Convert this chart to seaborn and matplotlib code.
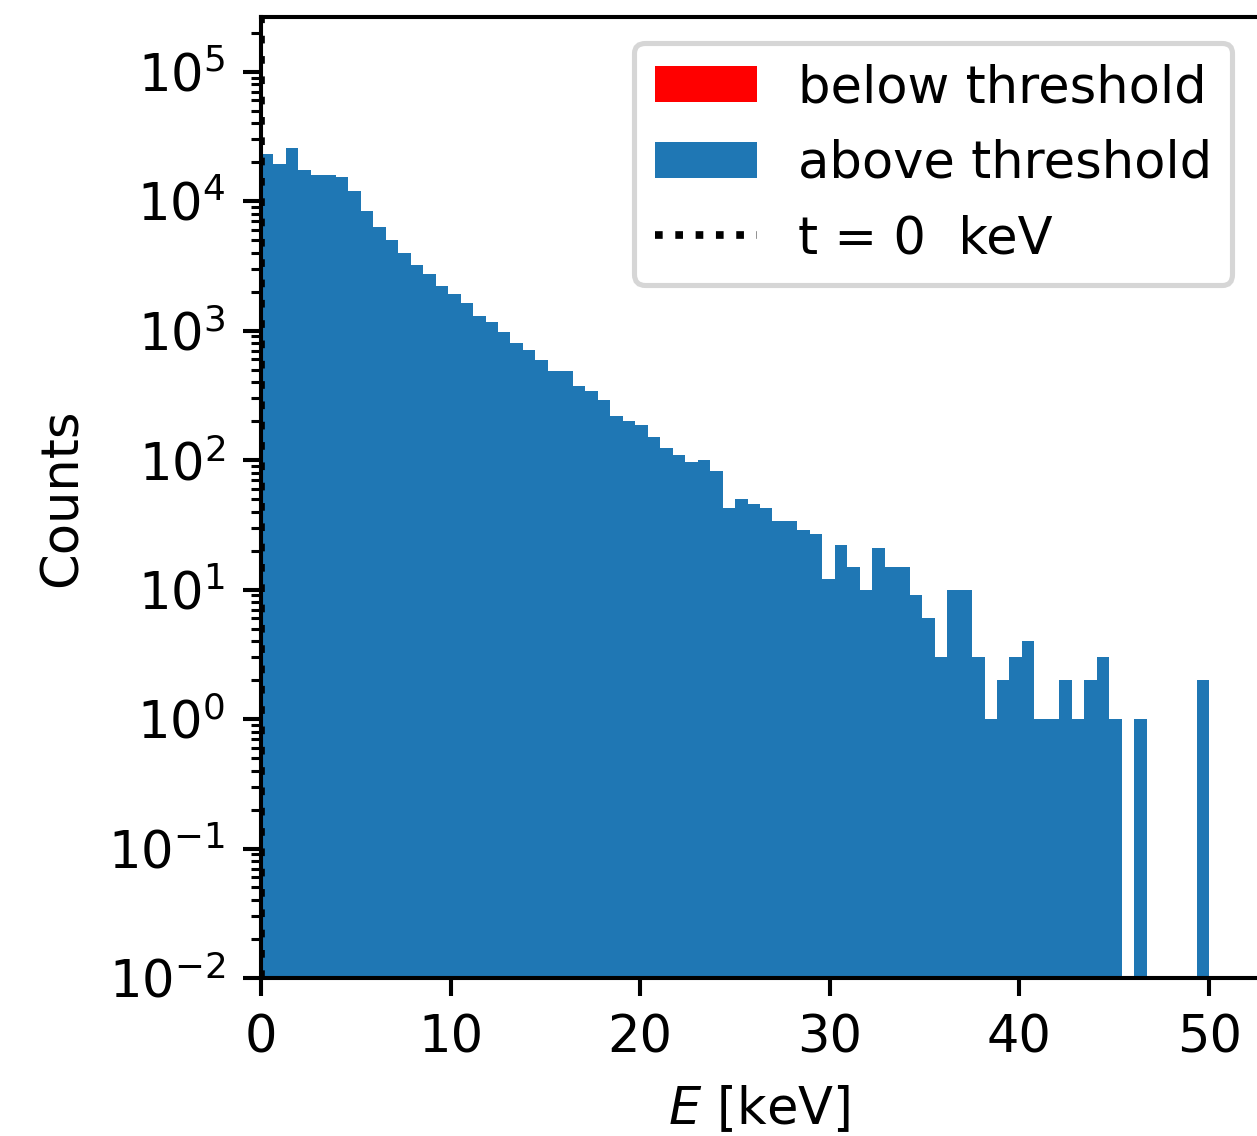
import numpy as np
import pandas as pd
import matplotlib
matplotlib.use("Agg")
import matplotlib.pyplot as plt
from matplotlib.patches import Patch
import seaborn as sns

# ---- data ----
threshold = 0
e_min, e_max, n_bins = 0.0, 50.0, 76
above_counts = [23300, 19500, 25700, 17300, 15800, 15800, 15300, 11900, 8440, 6270,
                4980, 4000, 3190, 2750, 2220, 1900, 1620, 1290, 1170, 980,
                805, 702, 594, 489, 489, 370, 340, 293, 219, 201,
                188, 152, 125, 109, 96, 100, 83, 43, 50, 46,
                43, 34, 34, 29, 27, 12, 22, 15, 10, 21,
                15, 15, 9, 6, 3, 10, 10, 3, 1, 2,
                3, 4, 1, 1, 2, 1, 2, 3, 1, 0,
                1, 0, 0, 0, 0, 2]
below_counts = []  # nothing below a 0 keV threshold

edges = np.linspace(e_min, e_max, n_bins + 1)
centers = 0.5 * (edges[:-1] + edges[1:])
df = pd.DataFrame({"E": centers, "counts": np.asarray(above_counts, dtype=float)})

plt.rcParams["font.size"] = 10
W, H, DPI = 1257, 1136, 368
fig = plt.figure(figsize=(W / DPI, H / DPI), dpi=DPI)
left, right, top, bottom = 261, 1258, 17, 978
ax = fig.add_axes([left / W, 1 - bottom / H, (right - left) / W, (bottom - top) / H])

sns.histplot(data=df, x="E", weights="counts", bins=list(edges), stat="count",
             color="#1f77b4", alpha=1.0, linewidth=0, ax=ax)
ax.set_yscale("log")
ax.axvline(threshold, color="black", linestyle=":", linewidth=1.5)

ax.set_xlim(0, 52.58)
ax.set_ylim(1e-2, 2.64e5)
ax.set_xticks([0, 10, 20, 30, 40, 50])
ax.set_xlabel(r"$E$ [keV]")
ax.set_ylabel("Counts")

handles = [Patch(facecolor="red", label="below threshold"),
           Patch(facecolor="#1f77b4", label="above threshold"),
           plt.Line2D([], [], color="black", linestyle=":", linewidth=1.5,
                      label=f"t = {threshold}  keV")]
ax.legend(handles=handles, loc="upper right")

fig.savefig("out.png", dpi=DPI)
